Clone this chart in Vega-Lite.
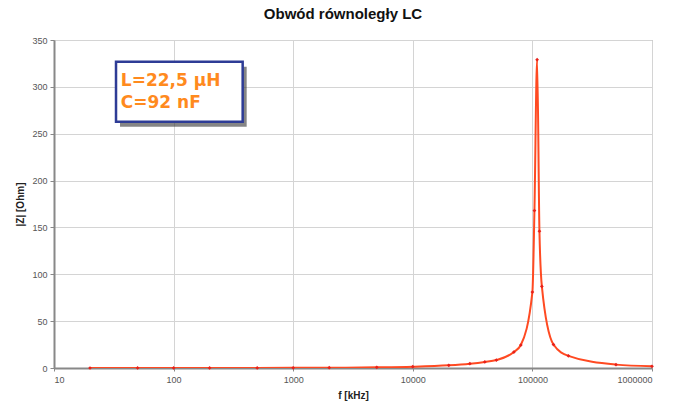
{
  "$schema": "https://vega.github.io/schema/vega-lite/v6.json",
  "autosize": {"type": "none"},
  "width": 598,
  "height": 328,
  "padding": {"left": 54, "top": 40, "right": 22, "bottom": 35},
  "background": "white",
  "config": {
    "view": {"stroke": "#a0a0a0", "strokeWidth": 1},
    "font": "Liberation Sans"
  },
  "title": {
    "text": "Obwód równoległy LC",
    "fontSize": 15,
    "fontWeight": "bold",
    "font": "Liberation Sans",
    "color": "#111111",
    "offset": 14,
    "dx": -10
  },
  "datasets": {
    "curve": [
      {"f": 20, "z": 0.003},
      {"f": 50, "z": 0.007},
      {"f": 100, "z": 0.014},
      {"f": 200, "z": 0.028},
      {"f": 500, "z": 0.07},
      {"f": 1000, "z": 0.14},
      {"f": 2000, "z": 0.28},
      {"f": 5000, "z": 0.71},
      {"f": 10000, "z": 1.4},
      {"f": 20000, "z": 2.9},
      {"f": 30000, "z": 4.6},
      {"f": 40000, "z": 6.5},
      {"f": 50000, "z": 8.5},
      {"f": 70000, "z": 17},
      {"f": 80000, "z": 24.5},
      {"f": 100000, "z": 81},
      {"f": 104000, "z": 168},
      {"f": 109500, "z": 329},
      {"f": 114500, "z": 146},
      {"f": 120000, "z": 87},
      {"f": 150000, "z": 25},
      {"f": 200000, "z": 13},
      {"f": 500000, "z": 3.6},
      {"f": 1000000, "z": 1.8}
    ],
    "box": [{"x1": 33, "x2": 378, "y1": 262.8, "y2": 326.8}],
    "labels": [
      {"f": 36.2, "z": 301, "t": "L=22,5 µH"},
      {"f": 36.2, "z": 277.5, "t": "C=92 nF"}
    ]
  },
  "layer": [
    {
      "data": {"name": "curve"},
      "mark": {"type": "line", "color": "#ff4a22", "strokeWidth": 2, "clip": true, "interpolate": "monotone"},
      "encoding": {
        "x": {
          "field": "f", "type": "quantitative",
          "scale": {"type": "log", "domain": [10, 1000000], "nice": false},
          "axis": {
            "values": [10, 100, 1000, 10000, 100000, 1000000],
            "format": "d",
            "title": "f [kHz]",
            "titleFontSize": 10,
            "titleFontWeight": "bold",
            "titleColor": "#222222",
            "titlePadding": 6,
            "labelFontSize": 9,
            "labelColor": "#555555",
            "labelPadding": 4,
            "domainColor": "#888888",
            "domainWidth": 2,
            "tickColor": "#888888",
            "tickSize": 3,
            "grid": true,
            "gridColor": "#d4d4d4",
            "gridWidth": 1
          }
        },
        "y": {
          "field": "z", "type": "quantitative",
          "scale": {"domain": [0, 350], "nice": false},
          "axis": {
            "values": [0, 50, 100, 150, 200, 250, 300, 350],
            "title": "|Z| [Ohm]",
            "titleFontSize": 10,
            "titleFontWeight": "bold",
            "titleColor": "#222222",
            "titlePadding": 6,
            "labelFontSize": 9,
            "labelColor": "#555555",
            "labelPadding": 3,
            "domainColor": "#888888",
            "domainWidth": 2,
            "tickColor": "#888888",
            "tickSize": 4,
            "grid": true,
            "gridColor": "#d4d4d4",
            "gridWidth": 1
          }
        }
      }
    },
    {
      "data": {"name": "curve"},
      "mark": {"type": "point", "shape": "diamond", "filled": true, "size": 14, "color": "#e8201a", "opacity": 1},
      "encoding": {
        "x": {"field": "f", "type": "quantitative"},
        "y": {"field": "z", "type": "quantitative"}
      }
    },
    {
      "data": {"name": "box"},
      "mark": {"type": "rect", "color": "#333333", "opacity": 0.6, "xOffset": 4, "yOffset": 5, "x2Offset": 4, "y2Offset": 5},
      "encoding": {
        "x": {"field": "x1", "type": "quantitative"},
        "x2": {"field": "x2"},
        "y": {"field": "y1", "type": "quantitative"},
        "y2": {"field": "y2"}
      }
    },
    {
      "data": {"name": "box"},
      "mark": {"type": "rect", "fill": "white", "stroke": "#2e3c96", "strokeWidth": 2.5},
      "encoding": {
        "x": {"field": "x1", "type": "quantitative"},
        "x2": {"field": "x2"},
        "y": {"field": "y1", "type": "quantitative"},
        "y2": {"field": "y2"}
      }
    },
    {
      "data": {"name": "labels"},
      "mark": {"type": "text", "align": "left", "baseline": "alphabetic", "font": "DejaVu Sans", "fontWeight": "bold", "fontSize": 17, "color": "#ff8a1e"},
      "encoding": {
        "x": {"field": "f", "type": "quantitative"},
        "y": {"field": "z", "type": "quantitative"},
        "text": {"field": "t"}
      }
    }
  ]
}
